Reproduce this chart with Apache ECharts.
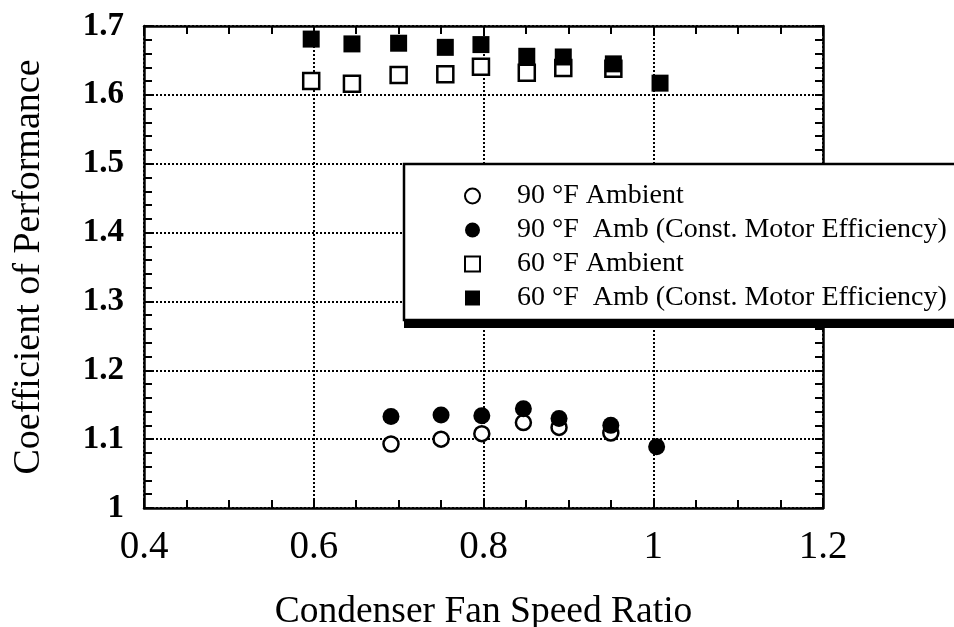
<!DOCTYPE html>
<html>
<head>
<meta charset="utf-8">
<script src="https://cdn.jsdelivr.net/npm/echarts@6/dist/echarts.min.js"></script>
<style>html,body{margin:0;padding:0;background:#fff}#c{width:954px;height:627px}</style>
</head>
<body>
<div id="c"></div>
<script>
// Data
const seriesNames = [
  '90 °F Ambient',
  '90 °F  Amb (Const. Motor Efficiency)',
  '60 °F Ambient',
  '60 °F  Amb (Const. Motor Efficiency)'
];
const amb90X = [0.691, 0.750, 0.798, 0.847, 0.889, 0.950];
const amb90Y = [1.093, 1.100, 1.108, 1.124, 1.117, 1.109];
const amb90ConstX = [0.691, 0.750, 0.798, 0.847, 0.889, 0.950, 1.004];
const amb90ConstY = [1.133, 1.135, 1.134, 1.144, 1.130, 1.120, 1.089];
const amb60X = [0.597, 0.645, 0.700, 0.755, 0.797, 0.851, 0.894, 0.953];
const amb60Y = [1.620, 1.616, 1.629, 1.630, 1.641, 1.632, 1.639, 1.638];
const amb60ConstX = [0.597, 0.645, 0.700, 0.755, 0.797, 0.851, 0.894, 0.953, 1.008];
const amb60ConstY = [1.681, 1.674, 1.675, 1.669, 1.673, 1.656, 1.655, 1.645, 1.617];
const xTitle = 'Condenser Fan Speed Ratio';
const yTitle = 'Coefficient of Performance';

function pairs(xs, ys) { return xs.map((x, i) => [x, ys[i]]); }

const serif = 'Liberation Serif, Times New Roman, serif';
const axisLine = { show: true, onZero: false, lineStyle: { color: '#000', width: 2.5 } };
const tick = { show: true, inside: true, length: 8, lineStyle: { color: '#000', width: 2 } };
const minor = (n) => ({ show: true, splitNumber: n, length: 8, lineStyle: { color: '#000', width: 2 } });
const grid = { show: true, lineStyle: { color: '#000', width: 2, type: [2, 2] } };

const chart = echarts.init(document.getElementById('c'));
chart.setOption({
  animation: false,
  backgroundColor: '#fff',
  grid: { left: 144, right: 131, top: 26, bottom: 119, containLabel: false, outerBoundsMode: 'none' },
  graphic: [
    { type: 'rect', left: 404, top: 170, z: 3, silent: true,
      shape: { width: 560, height: 158 }, style: { fill: '#000' } }
  ],
  xAxis: [
    {
      type: 'value', position: 'bottom', min: 0.4, max: 1.2, interval: 0.2,
      axisLine, axisTick: tick, minorTick: minor(4),
      splitLine: grid,
      axisLabel: { color: '#000', fontFamily: serif, fontSize: 39, margin: 20,
        formatter: v => String(Math.round(v * 10) / 10) },
      name: xTitle, nameLocation: 'middle', nameGap: 85,
      nameTextStyle: { color: '#000', fontFamily: serif, fontSize: 37.5 }
    },
    {
      type: 'value', position: 'top', min: 0.4, max: 1.2, interval: 0.2,
      axisLine, axisTick: tick, minorTick: minor(4),
      splitLine: { show: false }, axisLabel: { show: false }
    }
  ],
  yAxis: [
    {
      type: 'value', position: 'left', min: 1.0, max: 1.7, interval: 0.1,
      axisLine, axisTick: tick, minorTick: minor(5),
      splitLine: grid,
      axisLabel: { color: '#000', fontFamily: serif, fontSize: 33, fontWeight: 'bold', margin: 20,
        formatter: v => String(Math.round(v * 10) / 10) },
      name: yTitle, nameLocation: 'middle', nameGap: 96, nameRotate: 90,
      nameTextStyle: { color: '#000', fontFamily: serif, fontSize: 38 }
    },
    {
      type: 'value', position: 'right', min: 1.0, max: 1.7, interval: 0.1,
      axisLine, axisTick: tick, minorTick: minor(5),
      splitLine: { show: false }, axisLabel: { show: false }
    }
  ],
  legend: {
    orient: 'vertical', left: 404, top: 164, z: 4,
    padding: [18, 300, 8, 60],
    itemGap: 6, itemWidth: 15, itemHeight: 15,
    backgroundColor: '#fff', borderColor: '#000', borderWidth: 2.5, borderRadius: 0,
    textStyle: { color: '#000', fontFamily: serif, fontSize: 28, lineHeight: 26, padding: [0, 0, 0, 32] },
    data: [
      { name: seriesNames[0], icon: 'circle' },
      { name: seriesNames[1], icon: 'circle' },
      { name: seriesNames[2], icon: 'rect' },
      { name: seriesNames[3], icon: 'rect' }
    ]
  },
  series: [
    { name: seriesNames[0], type: 'scatter', symbol: 'circle', symbolSize: 15,
      itemStyle: { color: '#fff', borderColor: '#000', borderWidth: 2.5, opacity: 1 },
      data: pairs(amb90X, amb90Y) },
    { name: seriesNames[2], type: 'scatter', symbol: 'rect', symbolSize: 16,
      itemStyle: { color: '#fff', borderColor: '#000', borderWidth: 2.5, opacity: 1 },
      data: pairs(amb60X, amb60Y) },
    { name: seriesNames[1], type: 'scatter', symbol: 'circle', symbolSize: 17,
      itemStyle: { color: '#000', opacity: 1 },
      data: pairs(amb90ConstX, amb90ConstY) },
    { name: seriesNames[3], type: 'scatter', symbol: 'rect', symbolSize: 17,
      itemStyle: { color: '#000', opacity: 1 },
      data: pairs(amb60ConstX, amb60ConstY) }
  ]
});
</script>
</body>
</html>
